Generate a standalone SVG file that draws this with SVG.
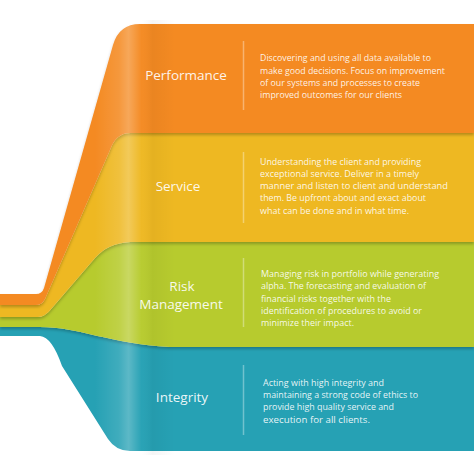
<svg xmlns="http://www.w3.org/2000/svg" width="474" height="474" viewBox="0 0 474 474">
<defs>
<style>
.title{font-family:"Open Sans","Liberation Sans",sans-serif;font-size:13.5px;fill:#ffffff;fill-opacity:0.92;text-anchor:middle}
.desc{font-family:"Open Sans","Liberation Sans",sans-serif;font-size:9.5px;fill:#ffffff;fill-opacity:0.9}
.div{stroke:#ffffff;stroke-opacity:0.35;stroke-width:1.5}
</style>
<filter id="sh" x="-5%" y="-5%" width="110%" height="115%">
<feDropShadow dx="0" dy="2" stdDeviation="1.8" flood-color="#000" flood-opacity="0.25"/>
</filter>
<linearGradient id="gloss" gradientUnits="userSpaceOnUse" x1="95" y1="0" x2="175" y2="0">
<stop offset="0" stop-color="#fff" stop-opacity="0"/>
<stop offset="0.3" stop-color="#fff" stop-opacity="0.12"/>
<stop offset="0.42" stop-color="#fff" stop-opacity="0.25"/>
<stop offset="0.58" stop-color="#fff" stop-opacity="0.02"/>
<stop offset="0.72" stop-color="#000" stop-opacity="0.04"/>
<stop offset="1" stop-color="#000" stop-opacity="0"/>
</linearGradient>
</defs>
<rect width="474" height="474" fill="#ffffff"/>

<g id="integrity">
<path d="M0,327 L40,327 C80,327 110,344 170,347 L474,347 L474,451 L130,451 Q116,451 108,439 L62,366 Q52,337 40,336 L0,336 Z" fill="#26A1B4"/>
</g>
<g id="risk-management">
<path d="M0,317 L38,317 Q45,317 52,308 L95,258 Q108,243 130,242 L474,242 L474,347 L170,347 C110,344 80,327 40,327 L0,327 Z" fill="#B7CB2F" filter="url(#sh)"/>
</g>
<g id="service">
<path d="M0,305 L36,305 Q42,305 45,299 L110,150 Q116,133 130,133 L474,133 L474,242 L130,242 Q108,243 95,258 L52,308 Q45,317 38,317 L0,317 Z" fill="#EEB822" filter="url(#sh)"/>
</g>
<g id="performance">
<path d="M0,294 L36,294 Q42,294 44,288 L113,45 Q119,24 140,24 L474,24 L474,133 L130,133 Q116,133 110,150 L45,299 Q42,305 36,305 L0,305 Z" fill="#F48A22" filter="url(#sh)"/>
</g>

<rect x="95" y="20" width="80" height="435" fill="url(#gloss)"/>

<g id="dividers">
<line class="div" x1="243.5" y1="41" x2="243.5" y2="110"/>
<line class="div" x1="243.5" y1="152" x2="243.5" y2="223"/>
<line class="div" x1="243.5" y1="258" x2="243.5" y2="327"/>
<line class="div" x1="243.5" y1="365" x2="243.5" y2="435"/>
</g>

<g id="labels">
<text class="title" x="186" y="80">Performance</text>
<text class="title" x="178" y="191">Service</text>
<text class="title" x="182" y="291">Risk</text>
<text class="title" x="181" y="309">Management</text>
<text class="title" x="182" y="402">Integrity</text>

<text class="desc">
<tspan x="260" y="61" textLength="171" lengthAdjust="spacingAndGlyphs">Discovering and using all data available to</tspan>
<tspan x="260" y="74" textLength="185" lengthAdjust="spacingAndGlyphs">make good decisions. Focus on improvement</tspan>
<tspan x="260" y="86" textLength="160" lengthAdjust="spacingAndGlyphs">of our systems and processes to create</tspan>
<tspan x="260" y="98" textLength="142" lengthAdjust="spacingAndGlyphs">improved outcomes for our clients</tspan>
</text>
<text class="desc">
<tspan x="260" y="165" textLength="161" lengthAdjust="spacingAndGlyphs">Understanding the client and providing</tspan>
<tspan x="260" y="177" textLength="159" lengthAdjust="spacingAndGlyphs">exceptional service. Deliver in a timely</tspan>
<tspan x="260" y="189" textLength="188" lengthAdjust="spacingAndGlyphs">manner and listen to client and understand</tspan>
<tspan x="260" y="201" textLength="166" lengthAdjust="spacingAndGlyphs">them. Be upfront about and exact about</tspan>
<tspan x="260" y="214" textLength="149" lengthAdjust="spacingAndGlyphs">what can be done and in what time.</tspan>
</text>
<text class="desc">
<tspan x="261" y="277" textLength="178" lengthAdjust="spacingAndGlyphs">Managing risk in portfolio while generating</tspan>
<tspan x="261" y="289" textLength="165" lengthAdjust="spacingAndGlyphs">alpha. The forecasting and evaluation of</tspan>
<tspan x="261" y="302" textLength="130" lengthAdjust="spacingAndGlyphs">financial risks together with the</tspan>
<tspan x="261" y="314" textLength="161" lengthAdjust="spacingAndGlyphs">identification of procedures to avoid or</tspan>
<tspan x="261" y="326" textLength="93" lengthAdjust="spacingAndGlyphs">minimize their impact.</tspan>
</text>
<text class="desc">
<tspan x="263" y="386" textLength="121" lengthAdjust="spacingAndGlyphs">Acting with high integrity and</tspan>
<tspan x="263" y="398" textLength="155" lengthAdjust="spacingAndGlyphs">maintaining a strong code of ethics to</tspan>
<tspan x="263" y="410" textLength="131" lengthAdjust="spacingAndGlyphs">provide high quality service and</tspan>
<tspan x="263" y="423" textLength="107" lengthAdjust="spacingAndGlyphs">execution for all clients.</tspan>
</text>
</g>
</svg>
